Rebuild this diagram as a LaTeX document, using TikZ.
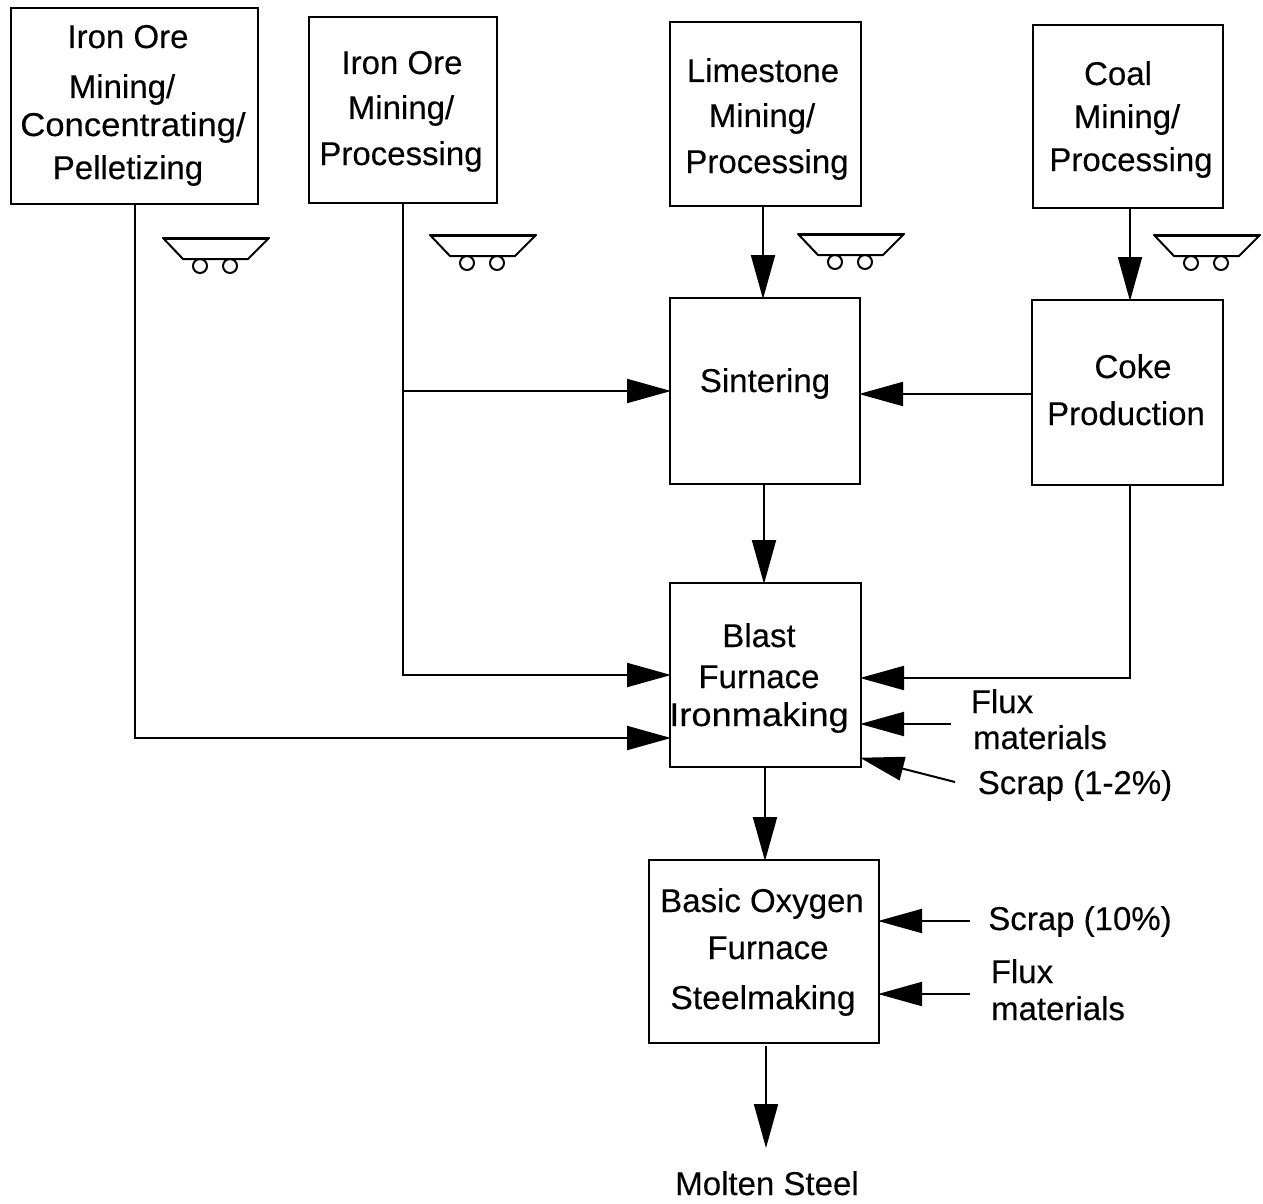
\documentclass[tikz,border=0pt]{standalone}
\usepackage{fontspec}
\setmainfont[FakeBold=0.25]{Liberation Sans}
\usetikzlibrary{arrows.meta}
\tikzset{
  box/.style={draw=black,line width=2pt,rectangle,inner sep=0pt,outer sep=0pt},
  lbl/.style={anchor=base,inner sep=0pt,font=\fontsize{33}{36}\selectfont,text=black},
  conn/.style={draw=black,line width=2pt},
  flow/.style={conn,shorten >=-1pt,-{Triangle[length=44pt,width=24pt]}},
  cartline/.style={draw=black,line width=2pt},
  pics/cart/.style={code={
    \draw[cartline,line join=round] (-53,0) -- (53,0) -- (32,21) -- (-33,21) -- cycle;
    \draw[cartline,line width=3pt] (-53,0) -- (53,0);
    \draw[cartline] (-16,28) circle[radius=7pt];
    \draw[cartline] (14,28) circle[radius=7pt];
  }}
}
\begin{document}
\begin{tikzpicture}[x=1pt,y=-1pt]
\useasboundingbox (0,0) rectangle (1263,1204);
% boxes
\node[box,minimum width=247pt,minimum height=196pt] (A) at (134.5,106) {};
\node[box,minimum width=188pt,minimum height=186pt] (B) at (403,110) {};
\node[box,minimum width=191pt,minimum height=184pt] (C) at (765.5,114) {};
\node[box,minimum width=190pt,minimum height=183pt] (D) at (1128,116.5) {};
\node[box,minimum width=190pt,minimum height=186pt] (S) at (765,391) {};
\node[box,minimum width=191pt,minimum height=185pt] (K) at (1127.5,392.5) {};
\node[box,minimum width=191pt,minimum height=184pt] (F) at (765.5,675) {};
\node[box,minimum width=230pt,minimum height=183pt] (O) at (764,951.5) {};
% labels
\node[lbl] (a1) at (128,48) {Iron Ore};
\node[lbl] (a2) at (122,98) {Mining/};
\node[lbl] (a3) at (133,136) {\scalebox{1.05}[1]{Concentrating/}};
\node[lbl] (a4) at (128,179) {Pelletizing};
\node[lbl] (b1) at (402,74) {Iron Ore};
\node[lbl] (b2) at (401,119) {Mining/};
\node[lbl] (b3) at (401,165) {Processing};
\node[lbl] (c1) at (763,82) {Limestone};
\node[lbl] (c2) at (762,127) {Mining/};
\node[lbl] (c3) at (767,173) {Processing};
\node[lbl] (d1) at (1118,85) {Coal};
\node[lbl] (d2) at (1127,128) {Mining/};
\node[lbl] (d3) at (1131,171) {Processing};
\node[lbl] (s1) at (765,392) {Sintering};
\node[lbl] (k1) at (1133,378) {Coke};
\node[lbl] (k2) at (1126,425) {Production};
\node[lbl] (f1) at (759,647) {Blast};
\node[lbl] (f2) at (759,688) {Furnace};
\node[lbl] (f3) at (759,726) {\scalebox{1.1}[1]{Ironmaking}};
\node[lbl] (x1) at (1002,713) {Flux};
\node[lbl] (x2) at (1040,749) {materials};
\node[lbl] (x3) at (1075,794) {Scrap (1-2\%)};
\node[lbl] (o1) at (762,912) {Basic Oxygen};
\node[lbl] (o2) at (768,959) {Furnace};
\node[lbl] (o3) at (763,1009) {\scalebox{1.02}[1]{Steelmaking}};
\node[lbl] (y1) at (1080,930) {Scrap (10\%)};
\node[lbl] (y2) at (1022,983) {Flux};
\node[lbl] (y3) at (1058,1020) {materials};
\node[lbl] (m) at (767,1195) {Molten Steel};
% free ends
\coordinate (fluxF) at (951,724);
\coordinate (scrapF) at (955,782);
\coordinate (scrapO) at (970,921);
\coordinate (fluxO) at (970,994);
\coordinate (molten) at (766,1147);
\coordinate (branch) at (403,391);
% connectors
\draw[flow] (A.south) |- ([yshift=-63pt]F.west);
\draw[flow] (B.south) |- (F.west);
\draw[flow] (branch) -- (S.west);
\draw[flow] ([xshift=-2.5pt]C.south) -- ([xshift=-2pt]S.north);
\draw[flow] ([xshift=2pt]D.south) -- ([xshift=2.5pt]K.north);
\draw[flow] ([yshift=-1.5pt]K.west) -- ([yshift=-3pt]S.east);
\draw[flow] ([xshift=-1pt]S.south) -- ([xshift=-1.5pt]F.north);
\draw[flow] ([xshift=2.5pt]K.south) |- ([yshift=-3pt]F.east);
\draw[flow] (fluxF) -- ([yshift=-49pt]F.east);
\draw[flow] (scrapF) -- ([yshift=-83pt]F.east);
\draw[flow] ([xshift=-0.5pt]F.south) -- ([xshift=1pt]O.north);
\draw[flow] (scrapO) -- ([yshift=30.5pt]O.east);
\draw[flow] (fluxO) -- ([yshift=-42.5pt]O.east);
\draw[flow] ([xshift=2pt,yshift=-3pt]O.south) -- (molten);
% ore cars
\pic at (216,238) {cart};
\pic at (483,235) {cart};
\pic at (851,234) {cart};
\pic at (1207,235) {cart};
\end{tikzpicture}
\end{document}
